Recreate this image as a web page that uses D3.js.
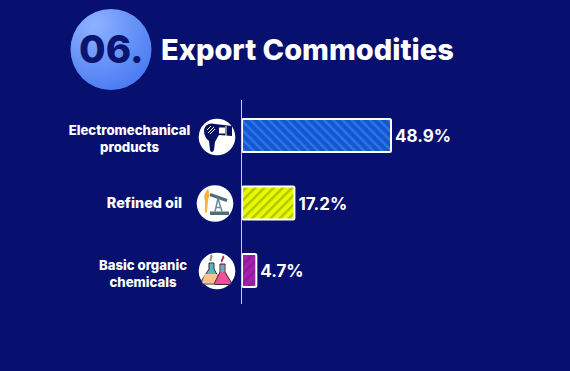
<!DOCTYPE html>
<html>
<head>
<meta charset="utf-8">
<script src="https://cdn.jsdelivr.net/npm/d3@7"></script>
<style>
  html, body { margin: 0; padding: 0; background: #07106e; }
  svg { display: block; }
  text { font-family: Inter, "Liberation Sans", sans-serif; }
</style>
</head>
<body>
<div id="chart"></div>
<script>
const categories = ["Electromechanical products", "Refined oil", "Basic organic chemicals"];
const labelLines = [["Electromechanical", "products"], ["Refined oil"], ["Basic organic", "chemicals"]];
const shares = [48.9, 17.2, 4.7];
const fills = ["#1257d6", "#e6fb00", "#a81fae"];
const stripes = ["#2f74e2", "#b4c800", "#8a1c9f"];
const stripeAngles = [-45, 45, 45];

const width = 570, height = 371;
const svg = d3.select("#chart").append("svg")
  .attr("width", width).attr("height", height);
const defs = svg.append("defs");

// title badge
const badge = defs.append("radialGradient")
  .attr("id", "badge").attr("cx", "30%").attr("cy", "20%").attr("r", "90%");
badge.append("stop").attr("offset", "0%").attr("stop-color", "#8db2ff");
badge.append("stop").attr("offset", "100%").attr("stop-color", "#4678f2");

svg.append("circle").attr("cx", 111).attr("cy", 49.5).attr("r", 40.5).attr("fill", "url(#badge)");
svg.append("text").attr("x", 79).attr("y", 62.5)
  .attr("font-size", 38.5).attr("font-weight", 800).attr("fill", "#0a1570").text("06.");
svg.append("text").attr("x", 161).attr("y", 59.5)
  .attr("font-size", 29).attr("font-weight", 800).attr("fill", "#fff").text("Export Commodities");

// bars
const x = d3.scaleLinear().domain([0, 48.9]).range([242, 391]);
const y = d3.scaleBand().domain(categories).range([119, 287]).paddingInner(0.511).paddingOuter(0);

fills.forEach((c, i) => {
  const p = defs.append("pattern")
    .attr("id", "stripe" + i).attr("width", 6.5).attr("height", 6.5)
    .attr("patternUnits", "userSpaceOnUse")
    .attr("patternTransform", `rotate(${stripeAngles[i]})`);
  p.append("rect").attr("width", 6.5).attr("height", 6.5).attr("fill", c);
  p.append("rect").attr("width", 2.5).attr("height", 6.5).attr("fill", stripes[i]);
});

svg.selectAll("rect.bar")
  .data(shares)
  .join("rect")
    .attr("class", "bar")
    .attr("x", x(0))
    .attr("y", (d, i) => y(categories[i]))
    .attr("width", d => x(d) - x(0))
    .attr("height", y.bandwidth())
    .attr("rx", 1.5)
    .attr("fill", (d, i) => `url(#stripe${i})`)
    .attr("stroke", "#fff")
    .attr("stroke-width", 2);

// axis line
svg.append("line")
  .attr("x1", 241.5).attr("x2", 241.5).attr("y1", 100).attr("y2", 304)
  .attr("stroke", "#c9cde6").attr("stroke-width", 1);

// value labels
svg.selectAll("text.value")
  .data(shares)
  .join("text")
    .attr("class", "value")
    .attr("x", d => x(d) + 4)
    .attr("y", (d, i) => y(categories[i]) + y.bandwidth() / 2 + 6.5)
    .attr("font-size", 17).attr("font-weight", 700).attr("fill", "#fff")
    .text(d => d + "%");

// category labels
const labelCx = [129.5, 144.5, 143];
const labelSize = [13.2, 14.4, 13.2];
const labelDy = [7.5, 4.5, 8.5];
labelLines.forEach((lines, i) => {
  const cy = y(categories[i]) + y.bandwidth() / 2;
  const t = svg.append("text")
    .attr("text-anchor", "middle")
    .attr("font-size", labelSize[i]).attr("font-weight", 800).attr("fill", "#fff");
  lines.forEach((l, j) => {
    t.append("tspan")
      .attr("x", labelCx[i])
      .attr("y", cy + labelDy[i] + (j - (lines.length - 1) / 2) * 17)
      .text(l);
  });
});

// icons
const iconX = [217, 215, 217], iconR = 18.3;
const iconCy = [137, 203.5, 271];
const icons = svg.selectAll("g.icon")
  .data(categories)
  .join("g")
    .attr("class", "icon")
    .attr("transform", (d, i) => `translate(${iconX[i]},${iconCy[i]})`);
icons.append("circle").attr("r", iconR).attr("fill", "#fff");

// hair dryer
const dryer = d3.select(icons.nodes()[0]);
dryer.append("path").attr("fill", "#07105f")
  .attr("d", "M-13,-6 C-13,-12 -7,-15 -2,-13 L15,-11 L15,-1 L2,-2 C0,1 -1,3 -2,5 L-3,13 C-4,16 -7,15 -7,13 L-8,4 C-11,2 -13,-2 -13,-6Z");
dryer.append("path").attr("stroke", "#fff").attr("stroke-width", 1).attr("fill", "none")
  .attr("d", "M-9,-4 L-3,-10 M-7,-3 L-2,-8 M-10,-7 L-6,-11 M9,-11 L9,-1");
dryer.append("rect").attr("x", 2).attr("y", -9.5).attr("width", 6).attr("height", 6).attr("fill", "#fff");

// pump jack
const pump = d3.select(icons.nodes()[1]);
pump.append("path").attr("fill", "#f7b23b")
  .attr("d", "M-7,-15 C-5,-10 -6,-6 -7,-3 L-8,9 L-10,9 L-10,-3 C-12,-7 -10,-11 -7,-15Z");
pump.append("path").attr("stroke", "#4a6b7a").attr("stroke-width", 3).attr("fill", "none")
  .attr("d", "M-5,-9 L12,-3");
pump.append("path").attr("stroke", "#6e8a96").attr("stroke-width", 1.5).attr("fill", "none")
  .attr("d", "M3,-5 L0,8 M3,-5 L7,8 M1,4 L6,4");
pump.append("rect").attr("x", -5).attr("y", 8).attr("width", 19).attr("height", 3.5).attr("fill", "#4f6d7a");

// flasks
const flask = d3.select(icons.nodes()[2]);
flask.append("path").attr("fill", "#5ab4c4").attr("stroke", "#3a2a2a").attr("stroke-width", 1)
  .attr("d", "M-8,-8 L-3,-8 L-3,-2 L3,9 C4,12 2,13 0,13 L-12,13 C-14,13 -16,12 -15,9 L-8,-2Z");
flask.append("path").attr("fill", "#f6c58d")
  .attr("d", "M-12,3 L0,3 L3,10 C3,12 2,12.5 0,12.5 L-12,12.5 C-14,12.5 -15,12 -14.5,10Z");
flask.append("path").attr("fill", "#f0509b").attr("stroke", "#3a2a2a").attr("stroke-width", 1)
  .attr("d", "M3,-7 L8,-7 L8,1 L14,11 C15,13 13,13.5 12,13.5 L-1,13.5 C-3,13.5 -3,12 -2,11 L3,1Z");
flask.append("path").attr("fill", "#5ab4c4")
  .attr("d", "M3.5,-6 L7.5,-6 L7.5,1 L3.5,1Z");
flask.append("path").attr("stroke", "#9b8a7c").attr("stroke-width", 2).attr("fill", "none")
  .attr("d", "M-6,-10 C-8,-13 -4,-13 -6,-16");
flask.append("path").attr("stroke", "#a0394f").attr("stroke-width", 2).attr("fill", "none")
  .attr("d", "M5,-9 C3,-12 8,-12 6,-15");
</script>
</body>
</html>
